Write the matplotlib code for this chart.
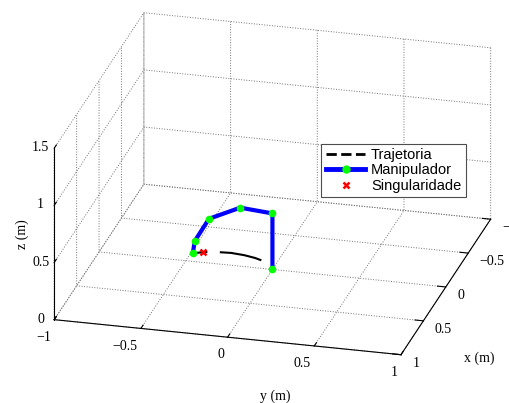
import matplotlib
matplotlib.use('Agg')
import matplotlib.pyplot as plt
import numpy as np
from matplotlib.lines import Line2D

# juntas do manipulador (m)
junta_x = [0, 0, 0, 0, 0, 0]
junta_y = [0, 0, -0.186, -0.366, -0.448, -0.459]
junta_z = [0, 0.49, 0.512, 0.387, 0.18, 0.071]

# trajetoria do efetuador
traj_x = [0, 0, 0, 0, 0, 0, 0]
traj_y = [-0.459, -0.40, -0.343, -0.238, -0.163, -0.10, -0.064]
traj_z = [0.071, 0.09, 0.102, 0.108, 0.10, 0.085, 0.07]

# singularidade
sing_x = [0]
sing_y = [-0.401]
sing_z = [0.089]

ticks_xy = [-1, -0.5, 0, 0.5, 1]
ticks_z = [0, 0.5, 1, 1.5]

serif = 'Liberation Serif'

fig = plt.figure(figsize=(5.1, 4.03), dpi=100)
ax = fig.add_axes([0.0235, 0.0306, 1.0, 1.0], projection='3d', proj_type='ortho')
ax.view_init(elev=23, azim=14.5)
ax.set_box_aspect((1, 1, 0.52), zoom=1.3)

ax.plot(traj_x, traj_y, traj_z, color='k', lw=1.5, dashes=(7, 6, 40, 2))
ax.plot(junta_x, junta_y, junta_z, color='#0000ff', lw=3, marker='o',
        ms=4.5, mfc='#00ff00', mec='#00ff00')
ax.plot(sing_x, sing_y, sing_z, 'x', color='red', ms=5, mew=1.8)

ax.set_xlim(-1, 1)
ax.set_ylim(-1, 1)
ax.set_zlim(0, 1.5)
ax.set_xticks(ticks_xy)
ax.set_yticks(ticks_xy)
ax.set_zticks(ticks_z)
ax.set_xticklabels(['\u22121', '\u22120.5', '0', '0.5', '1'], fontname=serif, fontsize=10,
                   ha='left', va='center_baseline')
ax.set_yticklabels(['\u22121', '\u22120.5', '0', '0.5', '1'], fontname=serif, fontsize=10,
                   ha='right')
ax.set_zticklabels(['0', '0.5', '1', '1.5'], fontname=serif, fontsize=10, va='baseline')
ax.tick_params(axis='x', pad=-3)
ax.tick_params(axis='y', pad=-2.5)
ax.tick_params(axis='z', pad=-3.3)

for eixo in (ax.xaxis, ax.yaxis, ax.zaxis):
    eixo.pane.fill = False
    eixo.pane.set_edgecolor('none')
    eixo._axinfo['grid'].update(color='0.45', linestyle=':', linewidth=0.7)
    eixo._axinfo['tick'].update(inward_factor=0.0, outward_factor=0.3)
    eixo.line.set_color('k')
    eixo.line.set_linewidth(0.8)

fig.text(0.94, 0.102, 'x (m)', fontname=serif, fontsize=10, ha='center')
fig.text(0.54, 0.008, 'y (m)', fontname=serif, fontsize=10, ha='center')
fig.text(0.03, 0.42, 'z (m)', fontname=serif, fontsize=10, rotation=90, va='center')

handles = [
    Line2D([], [], color='k', lw=2, ls='--'),
    Line2D([], [], color='#0000ff', lw=3.5, marker='o', ms=5, mfc='#00ff00', mec='#00ff00'),
    Line2D([], [], color='red', ls='none', marker='x', ms=5, mew=1.8),
]
leg = fig.legend(handles, ['Trajetoria', 'Manipulador', 'Singularidade'],
                 loc='upper left', bbox_to_anchor=(0.616, 0.662),
                 prop={'family': 'Liberation Sans', 'size': 10.5},
                 fancybox=False, edgecolor='0.3', framealpha=1,
                 handlelength=2.7, borderpad=0.3, labelspacing=0.1, handletextpad=0.4)
leg.get_frame().set_linewidth(0.8)

plt.savefig('out.png', dpi=100)
